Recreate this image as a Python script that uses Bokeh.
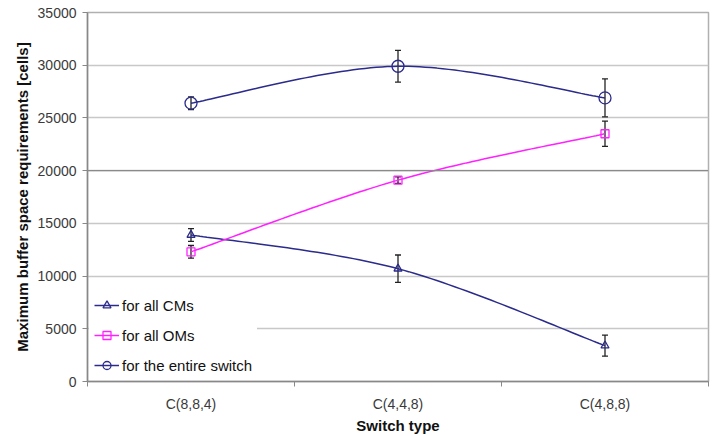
from bokeh.plotting import figure
from bokeh.models import (ColumnDataSource, Whisker, TeeHead, FixedTicker, Legend,
                          LegendItem, Range1d, Span)
from bokeh.embed import file_html
from bokeh.resources import INLINE

categories = ["C(8,8,4)", "C(4,4,8)", "C(4,8,8)"]
cms = [13900, 10700, 3400]
cms_err = [600, 1300, 1000]
oms = [12300, 19100, 23500]
oms_err = [600, 300, 1200]
switch = [26400, 29900, 26900]
switch_err = [600, 1500, 1800]

xs = [i + 0.5 for i in range(len(categories))]


def smooth(x, y, n=40):
    # Catmull-Rom style cubic Bezier smoothing through the data points
    px = [x[0]] + list(x) + [x[-1]]
    py = [y[0]] + list(y) + [y[-1]]
    ox, oy = [], []
    for i in range(1, len(px) - 2):
        p0 = (px[i - 1], py[i - 1]); p1 = (px[i], py[i])
        p2 = (px[i + 1], py[i + 1]); p3 = (px[i + 2], py[i + 2])
        c1 = (p1[0] + (p2[0] - p0[0]) / 6, p1[1] + (p2[1] - p0[1]) / 6)
        c2 = (p2[0] - (p3[0] - p1[0]) / 6, p2[1] - (p3[1] - p1[1]) / 6)
        for k in range(n + 1):
            t = k / n
            a = (1 - t) ** 3; b = 3 * (1 - t) ** 2 * t; c = 3 * (1 - t) * t ** 2; d = t ** 3
            ox.append(a * p1[0] + b * c1[0] + c * c2[0] + d * p2[0])
            oy.append(a * p1[1] + b * c1[1] + c * c2[1] + d * p2[1])
    return ox, oy


p = figure(width=725, height=436, output_backend="svg", toolbar_location=None,
           x_range=Range1d(0, 3), y_range=Range1d(0, 35000),
           min_border_left=87, min_border_right=17, min_border_top=12, min_border_bottom=55)
p.background_fill_color = "white"
p.border_fill_color = "white"
p.outline_line_color = "#b0b0b0"
p.outline_line_width = 1.5

FONT = "Liberation Sans"

# axes
p.xaxis.ticker = FixedTicker(ticks=xs, minor_ticks=[0, 1, 2, 3])
p.xaxis.major_label_overrides = {x: c for x, c in zip(xs, categories)}
p.xaxis.major_tick_out = 0
p.xaxis.major_tick_in = 0
p.xaxis.minor_tick_out = 5
p.xaxis.minor_tick_in = 0
p.xaxis.major_label_standoff = 9
p.xaxis.axis_label = "Switch type"
p.xaxis.axis_label_standoff = 2

p.yaxis.ticker = FixedTicker(ticks=list(range(0, 35001, 5000)))
p.yaxis.major_tick_out = 5
p.yaxis.major_tick_in = 0
p.yaxis.minor_tick_out = 0
p.yaxis.minor_tick_in = 0
p.yaxis.major_label_standoff = 6
p.yaxis.axis_label = "Maximum buffer space requirements [cells]"
p.yaxis.axis_label_standoff = 4

for ax in (p.xaxis[0], p.yaxis[0]):
    ax.axis_line_color = "#888888"
    ax.axis_line_width = 1.5
    ax.major_tick_line_color = "#888888"
    ax.minor_tick_line_color = "#888888"
    ax.major_label_text_font = FONT
    ax.major_label_text_font_size = "14px"
    ax.major_label_text_color = "#3a3a3a"
    ax.axis_label_text_font = FONT
    ax.axis_label_text_font_size = "15px"
    ax.axis_label_text_font_style = "bold"
    ax.axis_label_text_color = "#111111"

p.xgrid.grid_line_color = None
p.ygrid.ticker = FixedTicker(ticks=list(range(5000, 35001, 5000)))
p.ygrid.grid_line_color = "#c8c8c8"
p.ygrid.grid_line_width = 1.5
p.add_layout(Span(location=20000, dimension="width", line_color="#8a8a8a", line_width=1.2))

NAVY = "#2b2b8c"
MAG = "#ff22ff"

# lines
sx, sy = smooth(xs, cms)
l_cm = p.line(sx, sy, line_color=NAVY, line_width=1.5)
sx, sy = smooth(xs, oms)
l_om = p.line(sx, sy, line_color=MAG, line_width=1.5)
sx, sy = smooth(xs, switch)
l_sw = p.line(sx, sy, line_color=NAVY, line_width=1.5)

# markers
m_cm = p.scatter(xs, cms, marker="triangle", size=8, line_color=NAVY, fill_color="white", fill_alpha=0, line_width=1.3)
m_om = p.scatter(xs, oms, marker="square", size=8, line_color=MAG, fill_color="white", fill_alpha=0, line_width=1.3)
m_sw = p.scatter(xs, switch, marker="circle", size=12, line_color=NAVY, fill_color="white", fill_alpha=0, line_width=1.3)

# error bars
for vals, errs in ((cms, cms_err), (oms, oms_err), (switch, switch_err)):
    src = ColumnDataSource(dict(x=xs, upper=[v + e for v, e in zip(vals, errs)],
                                lower=[v - e for v, e in zip(vals, errs)]))
    w = Whisker(base="x", upper="upper", lower="lower", source=src,
                line_color="#222222", line_width=1.3,
                upper_head=TeeHead(size=6, line_color="#222222", line_width=1.3),
                lower_head=TeeHead(size=6, line_color="#222222", line_width=1.3))
    p.add_layout(w)

legend = Legend(items=[
    LegendItem(label="for all CMs", renderers=[l_cm, m_cm]),
    LegendItem(label="for all OMs", renderers=[l_om, m_om]),
    LegendItem(label="for the entire switch", renderers=[l_sw, m_sw]),
], location=(2, 1))
legend.background_fill_color = "white"
legend.background_fill_alpha = 1
legend.border_line_alpha = 0
legend.label_text_font = FONT
legend.label_text_font_size = "15px"
legend.label_text_color = "#111111"
legend.glyph_width = 25
legend.glyph_height = 20
legend.label_height = 20
legend.spacing = 10
legend.padding = 5
legend.margin = 0
legend.label_standoff = 3
p.add_layout(legend)

open("out.html", "w").write(file_html(p, INLINE))
